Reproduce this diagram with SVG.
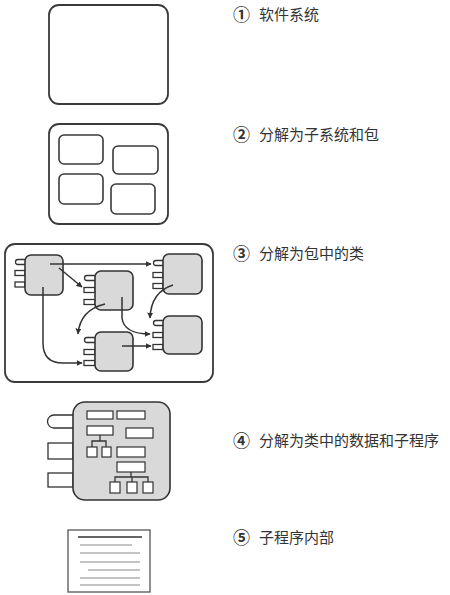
<svg xmlns="http://www.w3.org/2000/svg" width="450" height="595" viewBox="0 0 450 595">
<style>
.frame{fill:#fff;stroke:#3a3a3a;stroke-width:1.8}
.sub{fill:#fff;stroke:#3a3a3a;stroke-width:1.6}
.cls{fill:#d9d9d9;stroke:#333;stroke-width:1.6}
.port{fill:#fff;stroke:#333;stroke-width:1.3}
.small{fill:#fff;stroke:#333;stroke-width:1.2}
.conn{fill:none;stroke:#333;stroke-width:1.3}
.edge{fill:none;stroke:#333;stroke-width:1.5}
.lbl{font-family:"Noto Sans CJK SC","Noto Sans",sans-serif;font-size:15px;fill:#333}
.num{font-family:"Noto Sans CJK SC","Noto Sans",sans-serif;font-size:17px;font-weight:bold;fill:#333}
.txtline{stroke:#888;stroke-width:1}
</style>
<defs>
<marker id="ah" viewBox="0 0 10 10" refX="9" refY="5" markerWidth="6" markerHeight="6" orient="auto" markerUnits="userSpaceOnUse">
<path d="M0,0 L10,5 L0,10 z" fill="#333"/>
</marker>
</defs>

<!-- Level 1 -->
<g id="level1">
<rect class="frame" x="49" y="5" width="119" height="99" rx="10"/>
</g>
<g id="label1"><text class="num" x="233" y="21">①</text><text class="lbl" x="259" y="20">软件系统</text></g>

<!-- Level 2 -->
<g id="level2">
<rect class="frame" x="49" y="124" width="119" height="100" rx="10"/>
<rect class="sub" x="59" y="135" width="44" height="29" rx="5"/>
<rect class="sub" x="113" y="146" width="45" height="28" rx="5"/>
<rect class="sub" x="59" y="174" width="44" height="30" rx="5"/>
<rect class="sub" x="111" y="184" width="44" height="30" rx="5"/>
</g>
<g id="label2"><text class="num" x="233" y="141">②</text><text class="lbl" x="259" y="140">分解为子系统和包</text></g>

<!-- Level 3 -->
<g id="level3">
<rect class="frame" x="5" y="244" width="208" height="138" rx="10"/>
</g>
<g id="class1">
<path class="port" d="M25,259.5 H18 a2.5,2.5 0 0 0 0,5 H25"/>
<rect class="port" x="15" y="270.5" width="10" height="5"/>
<rect class="port" x="15" y="282" width="10" height="5"/>
<rect class="cls" x="25" y="255" width="38" height="40" rx="6"/>
</g>
<g id="class2">
<path class="port" d="M95,275.5 H87 a2.5,2.5 0 0 0 0,5 H95"/>
<rect class="port" x="84" y="287.5" width="11" height="5"/>
<rect class="port" x="84" y="299.5" width="11" height="5"/>
<rect class="cls" x="95" y="271" width="38" height="39" rx="6"/>
</g>
<g id="class3">
<path class="port" d="M163,260.5 H156 a2.5,2.5 0 0 0 0,5 H163"/>
<rect class="port" x="153" y="272.5" width="10" height="5"/>
<rect class="port" x="153" y="283.5" width="10" height="5"/>
<rect class="cls" x="163" y="254" width="39" height="40" rx="6"/>
</g>
<g id="class4">
<path class="port" d="M163,320.5 H156 a2.5,2.5 0 0 0 0,5 H163"/>
<rect class="port" x="153" y="332.5" width="10" height="5"/>
<rect class="port" x="153" y="344.5" width="10" height="5"/>
<rect class="cls" x="163" y="316" width="39" height="38" rx="6"/>
</g>
<g id="class5">
<path class="port" d="M95,337.5 H87 a2.5,2.5 0 0 0 0,5 H95"/>
<rect class="port" x="84" y="349.5" width="11" height="5"/>
<rect class="port" x="84" y="360.5" width="11" height="5"/>
<rect class="cls" x="95" y="332" width="38" height="39" rx="6"/>
</g>
<g id="connectors">
<path class="edge" marker-end="url(#ah)" d="M50,264 H151"/>
<path class="edge" marker-end="url(#ah)" d="M59,268 L82,287"/>
<path class="edge" marker-end="url(#ah)" d="M43,287 V343 Q43,363 63,363 H82"/>
<path class="edge" marker-end="url(#ah)" d="M105,304 Q80,310 78,334"/>
<path class="edge" marker-end="url(#ah)" d="M122,297 V318 Q124,334 150,334"/>
<path class="edge" marker-end="url(#ah)" d="M173,285 Q151,292 150,318"/>
<path class="edge" marker-end="url(#ah)" d="M122,346 H151"/>
</g>
<g id="label3"><text class="num" x="233" y="260">③</text><text class="lbl" x="259" y="259">分解为包中的类</text></g>

<!-- Level 4 -->
<g id="level4">
<path class="port" d="M73,415 H54 a6.5,6.5 0 0 0 0,13 H73"/>
<rect class="port" x="48" y="443" width="25" height="16"/>
<rect class="port" x="48" y="473" width="25" height="14"/>
<rect class="cls" x="73" y="402" width="97" height="98" rx="12"/>
<rect class="small" x="87" y="411" width="26" height="8"/>
<rect class="small" x="117" y="411" width="28" height="8"/>
<rect class="small" x="87" y="426" width="26" height="9"/>
<rect class="small" x="126" y="428" width="27" height="10"/>
<path class="conn" d="M100,435 V441 M92,447 V441 H106 V447"/>
<rect class="small" x="87" y="447" width="10" height="10"/>
<rect class="small" x="102" y="447" width="9" height="10"/>
<rect class="small" x="117" y="447" width="28" height="10"/>
<rect class="small" x="117" y="462" width="28" height="10"/>
<path class="conn" d="M131,472 V477 M115,482 V477 H148 V482 M132,477 V482"/>
<rect class="small" x="110" y="482" width="10" height="11"/>
<rect class="small" x="127" y="482" width="10" height="11"/>
<rect class="small" x="143" y="482" width="10" height="11"/>
</g>
<g id="label4"><text class="num" x="233" y="447">④</text><text class="lbl" x="259" y="446">分解为类中的数据和子程序</text></g>

<!-- Level 5 -->
<g id="level5">
<rect x="68" y="530" width="82" height="62" fill="#fff" stroke="#555" stroke-width="1.3"/>
<line x1="78" y1="537" x2="142" y2="537" stroke="#666" stroke-width="2"/>
<line class="txtline" x1="80" y1="545" x2="132" y2="545"/>
<line class="txtline" x1="80" y1="553" x2="140" y2="553"/>
<line class="txtline" x1="80" y1="562" x2="140" y2="562"/>
<line class="txtline" x1="88" y1="570" x2="140" y2="570"/>
<line class="txtline" x1="80" y1="578" x2="140" y2="578"/>
<line class="txtline" x1="80" y1="585" x2="140" y2="585"/>
</g>
<g id="label5"><text class="num" x="233" y="544">⑤</text><text class="lbl" x="259" y="543">子程序内部</text></g>
</svg>
